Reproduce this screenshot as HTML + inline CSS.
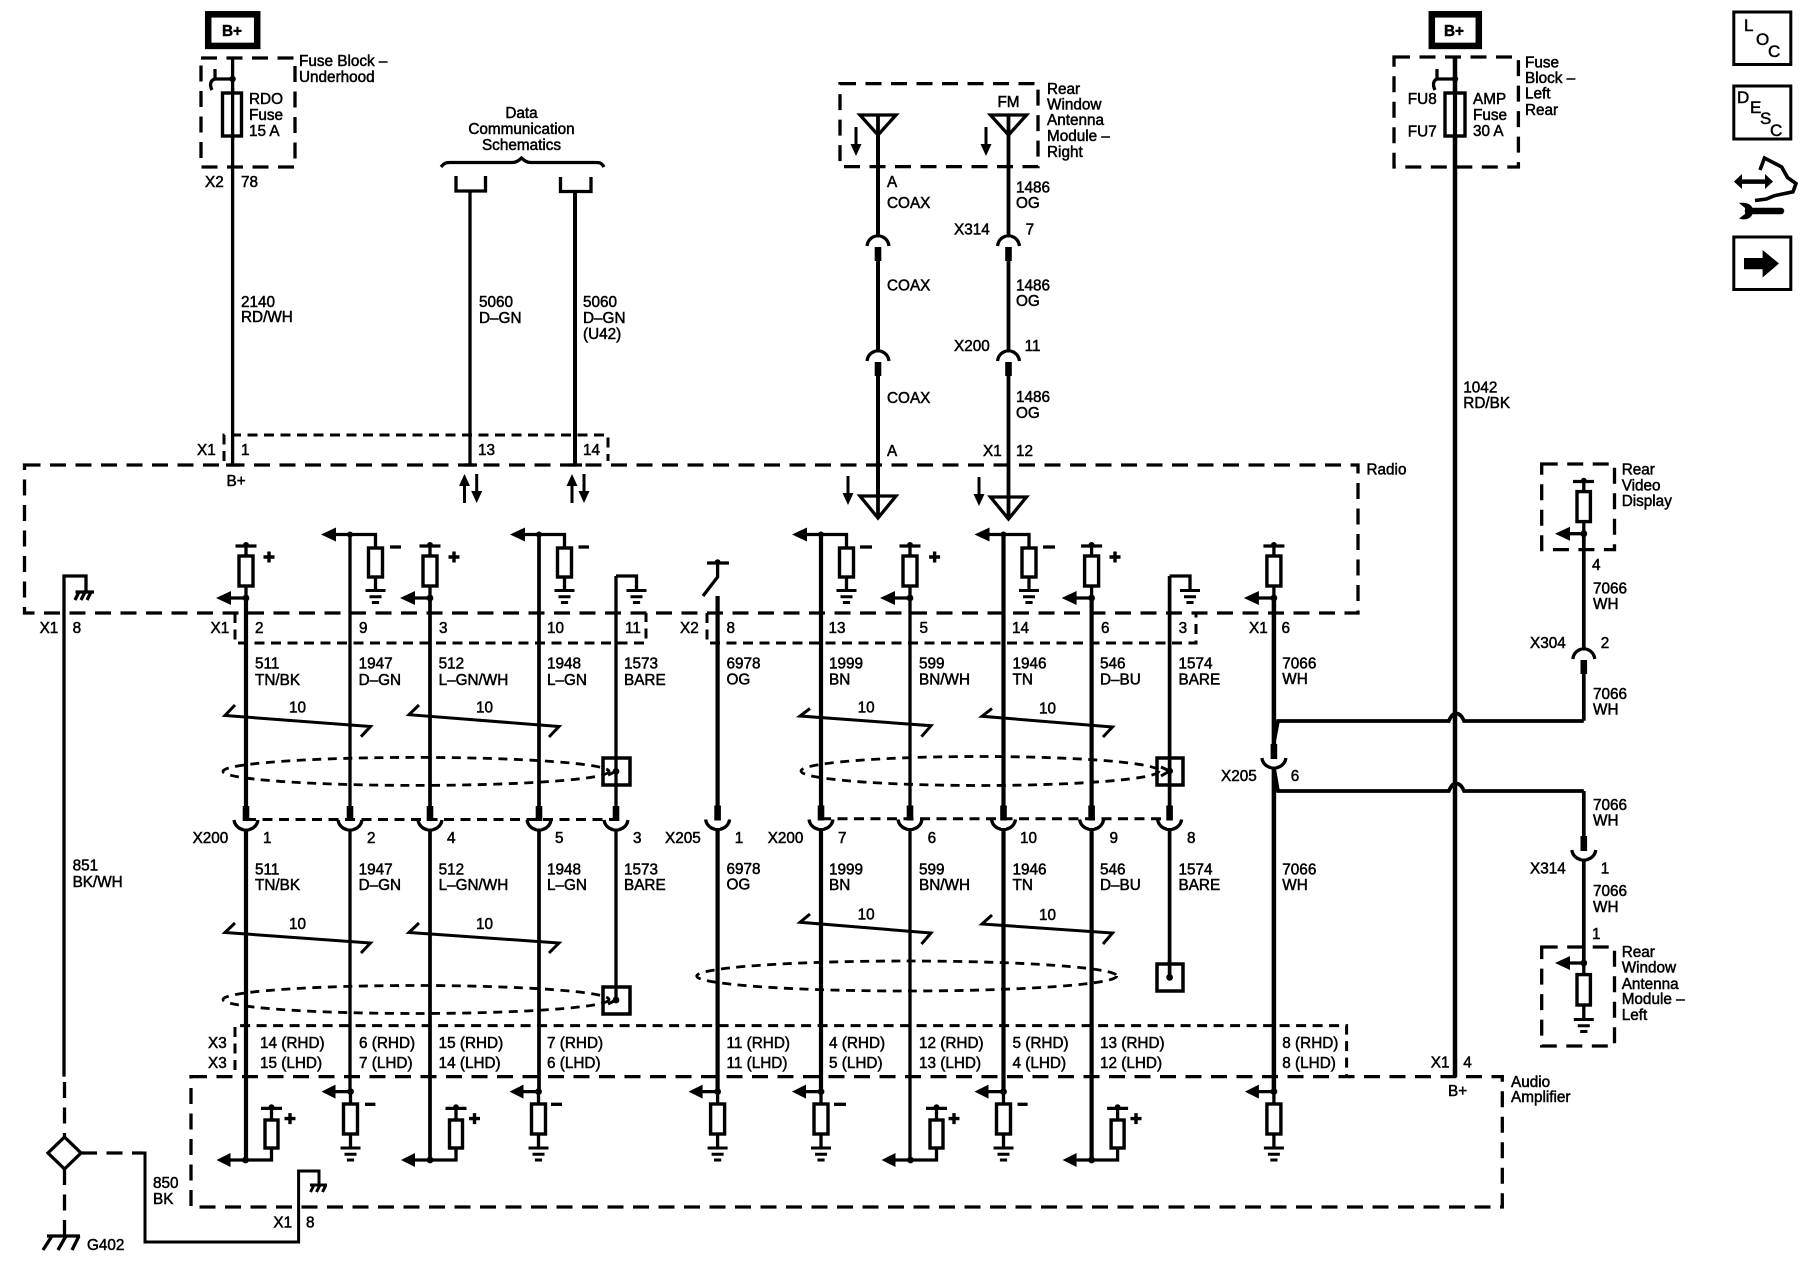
<!DOCTYPE html>
<html><head><meta charset="utf-8"><title>Radio wiring schematic</title>
<style>
html,body{margin:0;padding:0;background:#fff}
svg{display:block}
text{font-family:"Liberation Sans",Arial,sans-serif;font-size:15.3px;fill:#000;stroke:#000;stroke-width:.5}
.w{stroke:#000;fill:none}
.d{stroke:#000;fill:none;stroke-width:3.3;stroke-dasharray:16 9.5}
.o{stroke:#000;fill:none;stroke-width:3;stroke-dasharray:10 6.5}
.e{stroke:#000;fill:none;stroke-width:2.8;stroke-dasharray:9 6.5}
.b{font-weight:bold}
.i{font-size:17px}
</style></head><body>
<svg xmlns="http://www.w3.org/2000/svg" width="1800" height="1280" viewBox="0 0 1800 1280">
<defs>
<g id="gnd" class="w" stroke-width="3"><path d="M-10 0H10M-6 6.2H6M-3.6 12H3.6"/></g>
<g id="pu"><path class="w" stroke-width="3.3" d="M0 546V598M-10.5 546H10.5M-18 598H0"/><rect x="-7" y="556" width="14" height="30" fill="#fff" stroke="#000" stroke-width="3.4"/><circle cy="545" r="3"/><circle cy="598" r="3.4"/><path d="M-30 598L-15 591V605Z"/></g>
<g id="pd"><path class="w" stroke-width="3.3" d="M-16 534.5H25.5V548M25.5 577V590"/><rect x="18.5" y="548" width="14" height="29" fill="#fff" stroke="#000" stroke-width="3.4"/><circle cy="534.5" r="3"/><path d="M-29 534.5L-14 527.5V541.5Z"/><use href="#gnd" x="25.5" y="590.5"/></g>
<g id="plus"><path class="w" stroke-width="3.4" d="M-5.5 0H5.5M0 -5.5V5.5"/></g>
<g id="cup"><path class="w" stroke-width="3.3" d="M-12 0C-11 7 -5 10 0 10C5 10 11 7 12 0"/><path stroke="#fff" stroke-width="5" d="M0 -1V8.5"/><rect x="-3.3" y="-14" width="6.6" height="15"/></g>
<g id="cap"><path class="w" stroke-width="3.3" d="M-11 10C-10 3 -5 0 0 0C5 0 10 3 11 10"/><path stroke="#fff" stroke-width="5" d="M0 1.5V11"/><rect x="-3.3" y="11" width="6.6" height="14"/></g>
<g id="au"><path class="w" stroke-width="3.3" d="M-15 1160H26V1108.4M15.5 1108.4H36.5"/><rect x="19.5" y="1120" width="13" height="28" fill="#fff" stroke="#000" stroke-width="3.4"/><circle cy="1160" r="3.4"/><circle cx="26" cy="1107" r="2.8"/><path d="M-29 1160L-15 1153V1167Z"/></g>
<g id="ad"><path class="w" stroke-width="3.3" d="M-15 1091.6H0M0 1091.6V1148"/><rect x="-7" y="1104" width="14" height="30" fill="#fff" stroke="#000" stroke-width="3.4"/><circle cy="1091.6" r="3.4"/><path d="M-29 1091.6L-15 1084.6V1098.6Z"/><use href="#gnd" y="1148"/></g>
<g id="tri"><path fill="#fff" stroke="#000" stroke-width="3.3" d="M-18 0H18L0 20Z"/></g>
<g id="itri"><path fill="#fff" stroke="#000" stroke-width="3.3" d="M-18 0H18L0 22Z"/></g>
<g id="dar"><path class="w" stroke-width="3" d="M0 0V20"/><path d="M-5.5 17H5.5L0 29Z"/></g>
<g id="uar"><path class="w" stroke-width="3" d="M0 9V29"/><path d="M-5.5 12H5.5L0 0Z"/></g>
</defs>
<rect width="1800" height="1280" fill="#fff"/>

<!-- shield ellipses -->
<ellipse class="e" cx="416" cy="771.4" rx="193" ry="14"/>
<ellipse class="e" cx="416" cy="999.5" rx="193" ry="14"/>
<ellipse class="e" cx="980" cy="771" rx="179" ry="14.5"/>
<ellipse class="e" cx="906.7" cy="976" rx="210" ry="15"/>

<!-- dashed boxes -->
<rect class="d" x="24.5" y="465" width="1333.5" height="148"/>
<rect class="d" x="201" y="58" width="94" height="109"/>
<rect class="d" x="840" y="83.6" width="198" height="83"/>
<rect class="d" x="1394" y="57" width="124.4" height="110"/>
<rect class="d" x="1541.7" y="464" width="72.8" height="85.6"/>
<rect class="d" x="1541.7" y="947" width="72.8" height="99"/>
<rect class="d" x="191" y="1076.6" width="1311.3" height="130.4"/>
<!-- connector dotted outlines -->
<path class="o" d="M235 613V643H646V613"/>
<path class="o" d="M707 613V643H1196V613"/>
<path class="o" d="M224 461V435H608V461"/>
<path class="o" d="M235 1070V1025.6H1346.6V1076"/>
<path class="o" d="M246 819.5H616"/>
<path class="o" d="M821 818.7H1169.6"/>

<!-- B+ boxes -->
<rect x="208.2" y="14.3" width="49" height="31.6" fill="none" stroke="#000" stroke-width="6.5"/>
<rect x="1431.8" y="14.3" width="47" height="31.6" fill="none" stroke="#000" stroke-width="6.5"/>
<text x="222" y="36" class="b">B+</text>
<text x="1444" y="36" class="b">B+</text>

<!-- top wires -->
<path class="w" stroke-width="3.3" d="M232.6 58V465"/>
<rect x="222.5" y="93" width="19" height="43" fill="#fff" stroke="#000" stroke-width="3.4"/>
<path class="w" stroke-width="3.3" d="M232.6 88V140"/>
<circle cx="232.6" cy="79" r="3.2"/>
<path class="w" stroke-width="3.3" d="M232.6 79H215M215 69V79C211 80 209 84 212 90"/>
<path class="w" stroke-width="3.3" d="M441 167C445 162 447 162.5 452 162.5H512C517 162.5 519 160 521.5 158C524 160 526 162.5 531 162.5H594C599 162.5 601 162 604 167"/>
<path class="w" stroke-width="3.3" d="M456 176V191H485.5V176M560.5 177V191.5H591V177"/>
<path class="w" stroke-width="3.3" d="M470 191V465"/>
<path class="w" stroke-width="4" d="M575 191V465"/>
<path class="w" stroke-width="3.3" d="M226 465H240M464 465H477M569 465H582"/>
<use href="#uar" x="464.5" y="474"/><use href="#dar" x="476.7" y="474"/>
<use href="#uar" x="572" y="474"/><use href="#dar" x="584" y="474"/>

<!-- antennas -->
<path class="w" stroke-width="4" d="M878 115V518"/>
<path class="w" stroke-width="3.8" d="M1008.5 115V518"/>
<use href="#tri" x="878" y="115"/><use href="#tri" x="1008.5" y="115"/>
<use href="#itri" x="878" y="496"/><use href="#itri" x="1008.5" y="497"/>
<path class="w" stroke-width="3.8" d="M878 115V135M1008.5 115V135M878 496V518M1008.5 497V519"/>
<use href="#dar" x="856" y="127"/><use href="#dar" x="986" y="127"/>
<use href="#dar" x="848" y="476"/><use href="#dar" x="979" y="477"/>
<use href="#cap" x="878" y="236"/><use href="#cap" x="1008.5" y="236"/>
<use href="#cap" x="878" y="351"/><use href="#cap" x="1008.5" y="351"/>

<!-- column wires -->
<path class="w" stroke-width="4.2" d="M246 598V1160"/>
<path class="w" stroke-width="3.3" d="M350 534.5V1092"/>
<path class="w" stroke-width="3.7" d="M430 598V1160"/>
<path class="w" stroke-width="3.7" d="M539 534.5V1092"/>
<path class="w" stroke-width="3.3" d="M616 576V1000"/>
<path class="w" stroke-width="4.2" d="M717.6 596V1092"/>
<path class="w" stroke-width="4.2" d="M821 534.5V1092"/>
<path class="w" stroke-width="3.3" d="M910 598V1160"/>
<path class="w" stroke-width="4.2" d="M1003.5 534.5V1092"/>
<path class="w" stroke-width="4.2" d="M1091.6 598V1160"/>
<path class="w" stroke-width="3.7" d="M1169.6 576V977"/>
<path class="w" stroke-width="4.5" d="M1273.9 598V1092"/>
<path class="w" stroke-width="4.5" d="M1455 57V1077"/>
<path class="w" stroke-width="3.7" d="M1583.8 534V720.8"/>
<path class="w" stroke-width="3.7" d="M1583.8 791V963"/>
<!-- AMP fuse -->
<rect x="1445" y="93" width="20" height="43" fill="#fff" stroke="#000" stroke-width="3.4"/>
<path class="w" stroke-width="4.2" d="M1455 88V140"/>
<circle cx="1455" cy="79" r="3.2"/>
<path class="w" stroke-width="3.3" d="M1455 79H1437M1437 69V79C1434 80 1432 84 1435 90"/>

<!-- radio internals -->
<use href="#pu" x="246"/><use href="#plus" x="269" y="557"/>
<use href="#pd" x="350"/><path class="w" stroke-width="3.3" d="M390 547H401"/>
<use href="#pu" x="430"/><use href="#plus" x="454" y="557"/>
<use href="#pd" x="539"/><path class="w" stroke-width="3.3" d="M578.5 547H589"/>
<use href="#pd" x="821"/><path class="w" stroke-width="3.3" d="M860 547H872"/>
<use href="#pu" x="910"/><use href="#plus" x="934.6" y="557"/>
<use href="#pd" x="1003.5"/><path class="w" stroke-width="3.3" d="M1043 547H1055"/>
<use href="#pu" x="1091.6"/><use href="#plus" x="1115" y="557"/>
<use href="#pu" x="1273.9"/>
<path class="w" stroke-width="3.3" d="M616 576H636.5V590M1169.6 576H1190V590"/>
<use href="#gnd" x="636.5" y="590.5"/><use href="#gnd" x="1190" y="590.5"/>
<path class="w" stroke-width="3.3" d="M707 563H729M717.6 562V577L703 596"/>
<circle cx="717.6" cy="562" r="2.8"/>
<!-- chassis grounds -->
<path class="w" stroke-width="3.3" d="M64 613V576H86V592M75.5 592H94M79 592L75 600M85 592L81 600M91 592L87 600"/>
<path class="w" stroke-width="3.3" d="M64 613V1076.6"/>
<path class="w" stroke-width="3.3" stroke-dasharray="16 9.5" d="M64.5 1082V1137M64.5 1169V1236M81 1153H143"/>
<path fill="#fff" stroke="#000" stroke-width="3.3" d="M64.5 1137L81 1153L64.5 1169L48 1153Z"/>
<path class="w" stroke-width="3" d="M135 1153H145V1242H298.6V1171H319V1185M310 1185H327M314 1185L310.5 1192M320 1185L316.5 1192M326 1185L322.5 1192"/>
<path class="w" stroke-width="3.3" d="M47 1236H80M52 1236L43 1250M66 1236L58 1250M79 1236L72 1250"/>

<!-- twist marks -->
<path class="w" stroke-width="3" d="M235 705L225 715.5L370.5 726.5L361 736.7"/>
<path class="w" stroke-width="3" d="M419 705L409 714.7L559 726.5L549 737"/>
<path class="w" stroke-width="3" d="M810 708.5L800 716L931 725.7L921.5 736.7"/>
<path class="w" stroke-width="3" d="M992 708.5L982 716.3L1112.5 727L1103 737"/>
<path class="w" stroke-width="3" d="M235 923L225 932.5L370.5 943L361 953"/>
<path class="w" stroke-width="3" d="M419 923L409 932.5L559 943L549 953"/>
<path class="w" stroke-width="3" d="M810 914L800 922.3L931 933L921.5 944"/>
<path class="w" stroke-width="3" d="M992 915L982 924L1112.5 933L1103 944"/>

<!-- shield boxes -->
<rect x="603" y="758" width="27" height="27" fill="none" stroke="#000" stroke-width="3.5"/>
<circle cx="616" cy="771.4" r="3.4"/><path class="w" stroke-width="3" d="M616 771.4L608 775"/>
<rect x="603" y="987" width="27" height="27" fill="none" stroke="#000" stroke-width="3.5"/>
<circle cx="616" cy="1000" r="3.4"/><path class="w" stroke-width="3" d="M616 1000L608 1004"/>
<rect x="1157" y="758" width="26" height="27" fill="none" stroke="#000" stroke-width="3.5"/>
<circle cx="1169.6" cy="771" r="3.4"/><path class="w" stroke-width="3" d="M1169.6 771L1161 767M1169.6 771L1161 776"/>
<rect x="1157" y="964" width="26" height="27" fill="#fff" stroke="#000" stroke-width="3.5"/>
<circle cx="1169.6" cy="977.4" r="3.4"/><path class="w" stroke-width="3.7" d="M1169.6 960V977"/>

<!-- X200 / X205 cups -->
<use href="#cup" x="246" y="820"/><use href="#cup" x="350" y="820"/><use href="#cup" x="430" y="820"/><use href="#cup" x="539" y="820"/><use href="#cup" x="616" y="820"/>
<use href="#cup" x="717.6" y="819.5"/><use href="#cup" x="821" y="819.5"/><use href="#cup" x="910" y="819.5"/><use href="#cup" x="1003.5" y="819.5"/><use href="#cup" x="1091.6" y="819.5"/><use href="#cup" x="1169.6" y="819.5"/>

<!-- right side branches -->
<use href="#cup" x="1273.9" y="758"/>
<path class="w" stroke-width="3.7" d="M1274 742L1278 721H1448.8C1451 716 1453 713.5 1456 713.5C1459 713.5 1462 716 1464 721H1583.8"/>
<path class="w" stroke-width="3.7" d="M1274 768L1278 791H1448.8C1451 786 1453 783.5 1456 783.5C1459 783.5 1462 786 1464 791H1583.8"/>
<use href="#cap" x="1583.8" y="649"/>
<use href="#cup" x="1583.8" y="850"/>

<!-- rear video display -->
<path class="w" stroke-width="3.3" d="M1583.8 481.5V534M1573 481.5H1594M1565 533.7H1583.8"/>
<rect x="1577" y="491.6" width="13.4" height="30" fill="#fff" stroke="#000" stroke-width="3.4"/>
<circle cx="1583.8" cy="480.5" r="2.8"/><circle cx="1583.8" cy="533.7" r="3.4"/>
<path d="M1555 533.7L1570 526.7V540.7Z"/>
<!-- rear window left -->
<path class="w" stroke-width="3.3" d="M1583.8 963V1019M1565 963H1583.8"/>
<rect x="1577" y="974.6" width="13.4" height="30.4" fill="#fff" stroke="#000" stroke-width="3.4"/>
<circle cx="1583.8" cy="963" r="3.4"/>
<path d="M1555 963L1570 956V970Z"/>
<use href="#gnd" x="1583.8" y="1019.5"/>

<!-- amplifier internals -->
<use href="#au" x="245.5"/><use href="#plus" x="290" y="1118.6"/>
<use href="#ad" x="350.5"/><path class="w" stroke-width="3.3" d="M365 1104.3H375.4"/>
<use href="#au" x="430"/><use href="#plus" x="474.5" y="1118.6"/>
<use href="#ad" x="538.5"/><path class="w" stroke-width="3.3" d="M551 1104.3H562"/>
<use href="#ad" x="717.6"/>
<use href="#ad" x="821"/><path class="w" stroke-width="3.3" d="M834 1104.3H846"/>
<use href="#au" x="910.5"/><use href="#plus" x="954" y="1118.6"/>
<use href="#ad" x="1003.5"/><path class="w" stroke-width="3.3" d="M1017.5 1104.3H1027.6"/>
<use href="#au" x="1091.6"/><use href="#plus" x="1136" y="1118.6"/>
<use href="#ad" x="1273.9"/>

<!-- icons -->
<rect x="1733.8" y="12" width="57" height="52.5" fill="none" stroke="#000" stroke-width="3"/>
<rect x="1733.8" y="86" width="57" height="53" fill="none" stroke="#000" stroke-width="3"/>
<rect x="1733.8" y="237" width="57" height="52.5" fill="none" stroke="#000" stroke-width="3"/>
<text class="i" x="1744" y="31">L</text><text class="i" x="1756" y="45">O</text><text class="i" x="1768" y="57">C</text>
<text class="i" x="1737" y="103">D</text><text class="i" x="1750" y="113">E</text><text class="i" x="1760" y="124">S</text><text class="i" x="1770" y="136">C</text>
<path d="M1744 258H1762.6V250L1779 263.5L1762.6 277.500V269.3H1744Z"/>
<path class="w" stroke-width="4.5" d="M1739 181.6H1768"/>
<path d="M1733.9 181.6L1742 174V189ZM1773 181.6L1765 174V189Z"/>
<path class="w" stroke-width="3.6" d="M1760 170L1764.5 158L1781.7 167L1787.5 177.5L1796 183.6L1793 191.8L1774 195.8L1766.4 199L1755 200.5"/>
<path class="w" stroke-width="6.5" stroke-linecap="round" d="M1748 211H1781"/>
<path d="M1753 211C1753 204 1746 202 1739 203L1745 208V214L1739 218.5C1746 221 1753 218 1753 211Z"/>

<!-- labels -->
<text x="299" y="66">Fuse Block –</text><text x="299" y="82">Underhood</text>
<text x="249" y="104">RDO</text><text x="249" y="120">Fuse</text><text x="249" y="136">15 A</text>
<text x="205" y="187">X2</text><text x="241" y="187">78</text>
<text x="521.5" y="118" text-anchor="middle">Data</text><text x="521.5" y="134" text-anchor="middle">Communication</text><text x="521.5" y="150" text-anchor="middle">Schematics</text>
<text x="241" y="307">2140</text><text x="241" y="322">RD/WH</text>
<text x="479" y="307">5060</text><text x="479" y="323">D–GN</text>
<text x="583" y="307">5060</text><text x="583" y="323">D–GN</text><text x="583" y="339">(U42)</text>
<text x="197" y="455">X1</text><text x="241" y="455">1</text><text x="478" y="455">13</text><text x="583" y="455">14</text>
<text x="226.5" y="486">B+</text>
<text x="1047" y="94">Rear</text><text x="1047" y="109.5">Window</text><text x="1047" y="125">Antenna</text><text x="1047" y="141">Module –</text><text x="1047" y="157">Right</text>
<text x="1008.5" y="107" text-anchor="middle">FM</text>
<text x="887" y="187">A</text><text x="887" y="208">COAX</text>
<text x="1016" y="192.6">1486</text><text x="1016" y="208">OG</text>
<text x="954" y="234.6">X314</text><text x="1025.6" y="234.6">7</text>
<text x="887" y="290.5">COAX</text><text x="1016" y="290.5">1486</text><text x="1016" y="306">OG</text>
<text x="954" y="351">X200</text><text x="1024.6" y="351">11</text>
<text x="887" y="403">COAX</text><text x="1016" y="402">1486</text><text x="1016" y="418">OG</text>
<text x="887" y="456">A</text><text x="983" y="456">X1</text><text x="1016" y="456">12</text>
<text x="1525" y="67.3">Fuse</text><text x="1525" y="83">Block –</text><text x="1525" y="98.7">Left</text><text x="1525" y="115">Rear</text>
<text x="1407.8" y="104">FU8</text><text x="1407.8" y="136.7">FU7</text>
<text x="1473" y="104">AMP</text><text x="1473" y="120">Fuse</text><text x="1473" y="136">30 A</text>
<text x="1463.3" y="392.5">1042</text><text x="1463.3" y="408">RD/BK</text>
<text x="1366.5" y="474.5">Radio</text>
<text x="1621.7" y="474.5">Rear</text><text x="1621.7" y="490.5">Video</text><text x="1621.7" y="506">Display</text>
<text x="1592" y="570">4</text><text x="1593" y="593.6">7066</text><text x="1593" y="609">WH</text>
<text x="1530" y="648">X304</text><text x="1600.7" y="648">2</text>
<text x="1593" y="699">7066</text><text x="1593" y="714.7">WH</text>
<text x="1593" y="810">7066</text><text x="1593" y="825.6">WH</text>
<text x="1530" y="873.4">X314</text><text x="1600.7" y="873.4">1</text>
<text x="1593" y="896">7066</text><text x="1593" y="912">WH</text><text x="1592" y="939">1</text>
<text x="1621.7" y="957">Rear</text><text x="1621.7" y="972.5">Window</text><text x="1621.7" y="989">Antenna</text><text x="1621.7" y="1004">Module –</text><text x="1621.7" y="1020">Left</text>

<text x="39.6" y="633">X1</text><text x="72.6" y="633">8</text>
<text x="210.5" y="633">X1</text><text x="255" y="633">2</text><text x="359" y="633">9</text><text x="439" y="633">3</text><text x="547" y="633">10</text><text x="625" y="633">11</text>
<text x="680" y="633">X2</text><text x="726.5" y="633">8</text><text x="828.5" y="633">13</text><text x="919.5" y="633">5</text><text x="1012" y="633">14</text><text x="1101" y="633">6</text><text x="1178.6" y="633">3</text>
<text x="1249" y="633">X1</text><text x="1281.5" y="633">6</text>

<text x="255" y="668.6">511</text><text x="255" y="685">TN/BK</text>
<text x="358.6" y="668.6">1947</text><text x="358.6" y="685">D–GN</text>
<text x="438.6" y="668.6">512</text><text x="438.6" y="685">L–GN/WH</text>
<text x="547" y="668.6">1948</text><text x="547" y="685">L–GN</text>
<text x="624" y="668.6">1573</text><text x="624" y="685">BARE</text>
<text x="726.5" y="668.6">6978</text><text x="726.5" y="684.5">OG</text>
<text x="829" y="668.6">1999</text><text x="829" y="684.5">BN</text>
<text x="919" y="668.6">599</text><text x="919" y="684.5">BN/WH</text>
<text x="1012.5" y="668.6">1946</text><text x="1012.5" y="684.5">TN</text>
<text x="1100" y="668.6">546</text><text x="1100" y="684.5">D–BU</text>
<text x="1178.5" y="668.6">1574</text><text x="1178.5" y="684.5">BARE</text>
<text x="1282.3" y="668.6">7066</text><text x="1282.3" y="684">WH</text>

<text x="289" y="712.6">10</text><text x="476" y="712.6">10</text><text x="857.6" y="712.6">10</text><text x="1039" y="713.5">10</text>

<text x="192.6" y="843">X200</text><text x="263" y="843">1</text><text x="367" y="843">2</text><text x="447" y="843">4</text><text x="555" y="843">5</text><text x="633" y="843">3</text>
<text x="665" y="843">X205</text><text x="734.7" y="843">1</text><text x="767.7" y="843">X200</text><text x="838" y="843">7</text><text x="927.6" y="843">6</text><text x="1020" y="843">10</text><text x="1109.5" y="843">9</text><text x="1187" y="843">8</text>
<text x="1221" y="780.8">X205</text><text x="1290.7" y="780.8">6</text>

<text x="255" y="874.6">511</text><text x="255" y="890">TN/BK</text>
<text x="358.6" y="874.6">1947</text><text x="358.6" y="890">D–GN</text>
<text x="438.6" y="874.6">512</text><text x="438.6" y="890">L–GN/WH</text>
<text x="547" y="874.6">1948</text><text x="547" y="890">L–GN</text>
<text x="624" y="874.6">1573</text><text x="624" y="890">BARE</text>
<text x="726.5" y="874">6978</text><text x="726.5" y="889.5">OG</text>
<text x="829" y="874.6">1999</text><text x="829" y="890">BN</text>
<text x="919" y="874.6">599</text><text x="919" y="890">BN/WH</text>
<text x="1012.5" y="874.6">1946</text><text x="1012.5" y="890">TN</text>
<text x="1100" y="874.6">546</text><text x="1100" y="890">D–BU</text>
<text x="1178.5" y="874.6">1574</text><text x="1178.5" y="890">BARE</text>
<text x="1282.3" y="874.6">7066</text><text x="1282.3" y="890">WH</text>

<text x="289" y="929">10</text><text x="476" y="929">10</text><text x="857.6" y="919.5">10</text><text x="1039" y="920">10</text>

<text x="208" y="1048">X3</text><text x="208" y="1068">X3</text>
<text x="260" y="1048">14 (RHD)</text><text x="260" y="1068">15 (LHD)</text>
<text x="359" y="1048">6 (RHD)</text><text x="359" y="1068">7 (LHD)</text>
<text x="438.6" y="1048">15 (RHD)</text><text x="438.6" y="1068">14 (LHD)</text>
<text x="547" y="1048">7 (RHD)</text><text x="547" y="1068">6 (LHD)</text>
<text x="726.5" y="1048">11 (RHD)</text><text x="726.5" y="1068">11 (LHD)</text>
<text x="829" y="1048">4 (RHD)</text><text x="829" y="1068">5 (LHD)</text>
<text x="919" y="1048">12 (RHD)</text><text x="919" y="1068">13 (LHD)</text>
<text x="1012.5" y="1048">5 (RHD)</text><text x="1012.5" y="1068">4 (LHD)</text>
<text x="1100" y="1048">13 (RHD)</text><text x="1100" y="1068">12 (LHD)</text>
<text x="1282.3" y="1048">8 (RHD)</text><text x="1282.3" y="1068">8 (LHD)</text>
<text x="1430.8" y="1067.6">X1</text><text x="1463.3" y="1067.6">4</text>
<text x="1448" y="1096">B+</text>
<text x="1511" y="1086.8">Audio</text><text x="1511" y="1102">Amplifier</text>
<text x="72.6" y="870.5">851</text><text x="72.6" y="887">BK/WH</text>
<text x="153" y="1188">850</text><text x="153" y="1204">BK</text>
<text x="273.4" y="1227.6">X1</text><text x="306" y="1227.6">8</text>
<text x="87" y="1250">G402</text>
</svg>
</body></html>
